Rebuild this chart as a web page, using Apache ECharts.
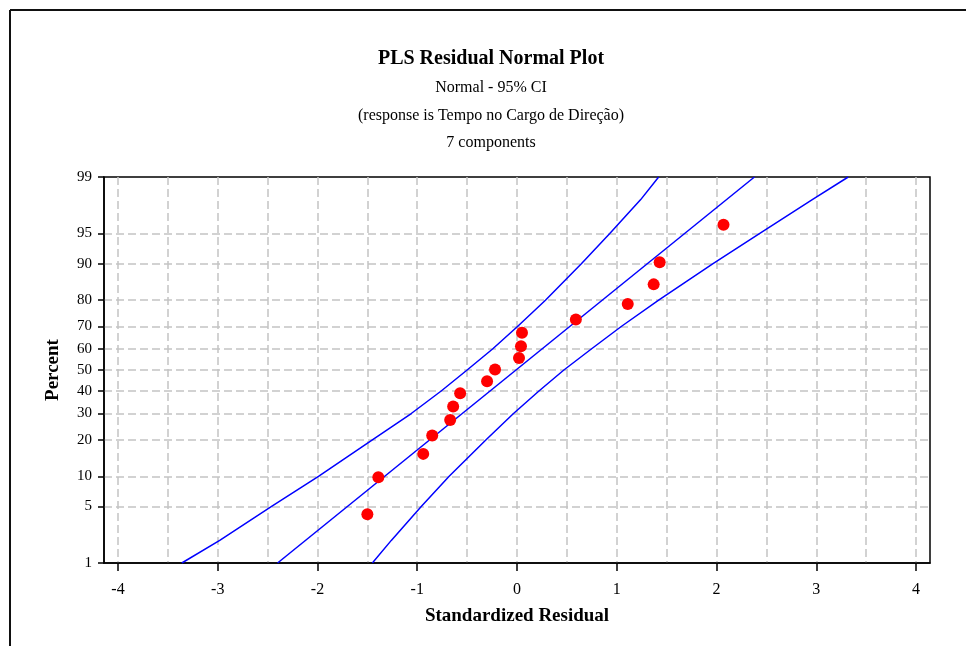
<!DOCTYPE html>
<html><head><meta charset="utf-8">
<script src="https://cdn.jsdelivr.net/npm/echarts@6/dist/echarts.min.js"></script>
<style>html,body{margin:0;padding:0;background:#fff}#c{width:966px;height:646px}</style>
</head><body><div id="c"></div>
<script>
// ---- data ----
const residuals = [-1.50,-1.39,-0.94,-0.85,-0.67,-0.64,-0.57,-0.30,-0.22,0.02,0.04,0.05,0.59,1.11,1.37,1.43,2.07];
const percents  = [4.1,9.8,15.6,21.5,27.3,33.0,39.0,44.6,50.2,55.8,61.3,67.3,72.9,78.7,84.9,90.3,96.0];
const curvePercents = [1,2,5,10,20,30,40,50,60,70,80,90,95,98,99];
const lowerCI = [-3.36,-2.98,-2.46,-1.99,-1.45,-1.06,-0.76,-0.50,-0.245,0.005,0.285,0.645,0.93,1.24,1.42];
const upperCI = [-1.45,-1.26,-0.96,-0.68,-0.31,-0.035,0.22,0.47,0.745,1.045,1.42,1.965,2.43,2.96,3.32];
const fitPercents = [1,99];
const fitLine = [-2.40,2.38];
const yTickLabels = [1,5,10,20,30,40,50,60,70,80,90,95,99];
const xTickLabels = [-4,-3,-2,-1,0,1,2,3,4];
const xGridValues = [-4,-3.5,-3,-2.5,-2,-1.5,-1,-0.5,0,0.5,1,1.5,2,2.5,3,3.5,4];

// normal probability scale (inverse normal CDF, Acklam)
function probit(p){
  const a=[-3.969683028665376e+01,2.209460984245205e+02,-2.759285104469687e+02,1.383577518672690e+02,-3.066479806614716e+01,2.506628277459239e+00];
  const b=[-5.447609879822406e+01,1.615858368580409e+02,-1.556989798598866e+02,6.680131188771972e+01,-1.328068155288572e+01];
  const c=[-7.784894002430293e-03,-3.223964580411365e-01,-2.400758277161838e+00,-2.549732539343734e+00,4.374664141464968e+00,2.938163982698783e+00];
  const d=[7.784695709041462e-03,3.224671290700398e-01,2.445134137142996e+00,3.754408661907416e+00];
  const pl=0.02425, ph=1-pl; let q,r;
  if(p<pl){q=Math.sqrt(-2*Math.log(p));return (((((c[0]*q+c[1])*q+c[2])*q+c[3])*q+c[4])*q+c[5])/((((d[0]*q+d[1])*q+d[2])*q+d[3])*q+1);}
  if(p<=ph){q=p-0.5;r=q*q;return (((((a[0]*r+a[1])*r+a[2])*r+a[3])*r+a[4])*r+a[5])*q/(((((b[0]*r+b[1])*r+b[2])*r+b[3])*r+b[4])*r+1);}
  q=Math.sqrt(-2*Math.log(1-p));return -(((((c[0]*q+c[1])*q+c[2])*q+c[3])*q+c[4])*q+c[5])/((((d[0]*q+d[1])*q+d[2])*q+d[3])*q+1);
}
const Z = p => probit(p/100);
const yTickZ = yTickLabels.map(Z);
function yLabel(v){let bi=0,bd=1e9;yTickZ.forEach((z,i)=>{const d=Math.abs(z-v);if(d<bd){bd=d;bi=i;}});return String(yTickLabels[bi]);}

const FONT = "'Liberation Serif', 'Times New Roman', serif";
const gridStyle = {color:'#c4c4c4', type:[8,4], width:1.5};

const chart = echarts.init(document.getElementById('c'), null, {renderer:'canvas'});
chart.setOption({
  animation:false,
  backgroundColor:'#fff',
  grid:{left:104,right:36,top:177,bottom:83,show:true,borderColor:'#000',borderWidth:1.5,backgroundColor:'transparent'},
  xAxis:[{
    type:'value', min:-4.14, max:4.14,
    name:'Standardized Residual', nameLocation:'middle', nameGap:44,
    nameTextStyle:{fontFamily:FONT,fontWeight:'bold',fontSize:19,color:'#000'},
    axisLine:{show:true,onZero:false,lineStyle:{color:'#000',width:1.5}},
    axisTick:{show:true,length:8,customValues:xTickLabels,lineStyle:{color:'#000',width:1.5}},
    axisLabel:{customValues:xTickLabels,margin:19,fontFamily:FONT,fontSize:16,color:'#000'},
    splitLine:{show:false}
  },{
    type:'value', min:-4.14, max:4.14, position:'bottom',
    axisLine:{show:false}, axisLabel:{show:false},
    axisTick:{show:false,customValues:xGridValues},
    splitLine:{show:true,lineStyle:gridStyle}
  }],
  yAxis:{
    type:'value', min:Z(1), max:Z(99),
    name:'Percent', nameLocation:'middle', nameGap:41, nameRotate:90,
    nameTextStyle:{fontFamily:FONT,fontWeight:'bold',fontSize:19,color:'#000'},
    axisLine:{show:true,onZero:false,lineStyle:{color:'#000',width:1.5}},
    axisTick:{show:true,length:6,customValues:yTickZ,lineStyle:{color:'#000',width:1.5}},
    axisLabel:{customValues:yTickZ,formatter:yLabel,margin:12,fontFamily:FONT,fontSize:15,color:'#000'},
    splitLine:{show:true,showMinLine:false,showMaxLine:false,lineStyle:gridStyle}
  },
  series:[
    {type:'line',name:'lower',data:curvePercents.map((p,i)=>[lowerCI[i],Z(p)]),showSymbol:false,smooth:false,lineStyle:{color:'#0000ff',width:1.5},z:3},
    {type:'line',name:'fit',data:fitPercents.map((p,i)=>[fitLine[i],Z(p)]),showSymbol:false,lineStyle:{color:'#0000ff',width:1.5},z:3},
    {type:'line',name:'upper',data:curvePercents.map((p,i)=>[upperCI[i],Z(p)]),showSymbol:false,smooth:false,lineStyle:{color:'#0000ff',width:1.5},z:3},
    {type:'scatter',name:'residuals',data:residuals.map((x,i)=>[x,Z(percents[i])]),symbol:'circle',symbolSize:12,itemStyle:{color:'#ff0000',opacity:1},z:5}
  ],
  graphic:[
    {type:'line',shape:{x1:10,y1:10,x2:966,y2:10},style:{stroke:'#111',lineWidth:2}},
    {type:'line',shape:{x1:10,y1:10,x2:10,y2:646},style:{stroke:'#111',lineWidth:2}},
    {type:'text',x:491,y:59,style:{text:'PLS Residual Normal Plot',font:"bold 20px 'Liberation Serif', serif",fill:'#000',textAlign:'center',textVerticalAlign:'middle'}},
    {type:'text',x:491,y:88,style:{text:'Normal - 95% CI',font:"16px 'Liberation Serif', serif",fill:'#000',textAlign:'center',textVerticalAlign:'middle'}},
    {type:'text',x:491,y:116,style:{text:'(response is Tempo no Cargo de Direção)',font:"16px 'Liberation Serif', serif",fill:'#000',textAlign:'center',textVerticalAlign:'middle'}},
    {type:'text',x:491,y:143,style:{text:'7 components',font:"16px 'Liberation Serif', serif",fill:'#000',textAlign:'center',textVerticalAlign:'middle'}}
  ]
});
</script></body></html>
